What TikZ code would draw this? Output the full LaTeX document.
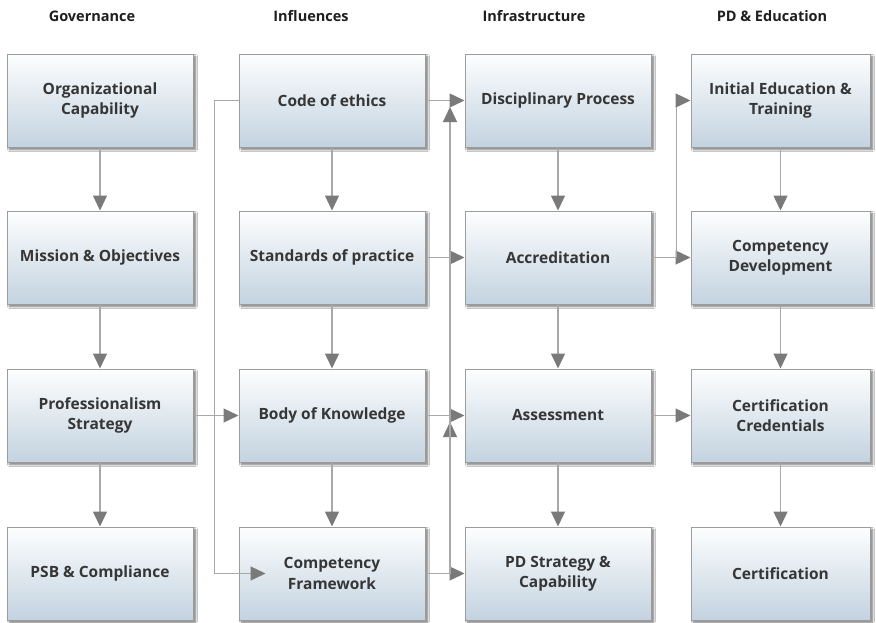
\documentclass[tikz,border=0pt]{standalone}
\usepackage{fontspec}
\setmainfont{Open Sans}
\usetikzlibrary{arrows.meta,shadows.blur}

\definecolor{boxtop}{HTML}{FDFEFE}
\definecolor{boxmid}{HTML}{E6EDF3}
\definecolor{boxbot}{HTML}{C3D3E0}
\definecolor{boxline}{HTML}{9C9C9C}
\definecolor{txt}{HTML}{363636}
\definecolor{wire}{HTML}{A8A8A8}
\definecolor{head}{HTML}{7A7A7A}

\tikzset{
  stage/.style={draw=boxline, line width=1pt, top color=boxtop, middle color=boxmid,
    bottom color=boxbot,
    minimum width=186pt, minimum height=93pt, inner sep=2pt, align=center,
    font=\fontsize{15.5}{20.5}\selectfont\bfseries, text=txt,
    blur shadow={shadow xshift=2.5pt, shadow yshift=-2.5pt, shadow blur radius=2pt,
      shadow blur steps=6, shadow opacity=55}},
  colhead/.style={font=\fontsize{14.5}{16}\selectfont\bfseries, text=black!88},
  link/.style={draw=wire, line width=1.3pt, -{Triangle[length=15pt,width=14pt,color=head]}},
}

\begin{document}
\begin{tikzpicture}[x=1pt,y=-1pt]
\path[use as bounding box, fill=white] (0,0) rectangle (876,622);

% column headings
\node[colhead] (h1) at (92,16)  {Governance};
\node[colhead] (h2) at (311,16) {Influences};
\node[colhead] (h3) at (534,16) {Infrastructure};
\node[colhead] (h4) at (772,16) {PD \& Education};

% Governance
\node[stage] (g1) at (100,100.5) {Organizational\\Capability};
\node[stage] (g2) at (100,257.5) {Mission \& Objectives};
\node[stage] (g3) at (100,415.5) {Professionalism\\Strategy};
\node[stage] (g4) at (100,573.5) {PSB \& Compliance};

% Influences
\node[stage] (i1) at (332,100.5) {Code of ethics};
\node[stage] (i2) at (332,257.5) {Standards of practice};
\node[stage] (i3) at (332,415.5) {Body of Knowledge};
\node[stage] (i4) at (332,573.5) {Competency\\Framework};

% Infrastructure
\node[stage] (f1) at (558,100.5) {Disciplinary Process};
\node[stage] (f2) at (558,257.5) {Accreditation};
\node[stage] (f3) at (558,415.5) {Assessment};
\node[stage] (f4) at (558,573.5) {PD Strategy \&\\Capability};

% PD & Education
\node[stage, minimum width=179pt] (p1) at (780.5,100.5) {Initial Education \&\\Training};
\node[stage, minimum width=179pt] (p2) at (780.5,257.5) {Competency\\Development};
\node[stage, minimum width=179pt] (p3) at (780.5,415.5) {Certification\\Credentials};
\node[stage, minimum width=179pt] (p4) at (780.5,573.5) {Certification};

% vertical flows inside each column
\draw[link] (g1) -- (g2);
\draw[link] (g2) -- (g3);
\draw[link] (g3) -- (g4);
\draw[link] (i1) -- (i2);
\draw[link] (i2) -- (i3);
\draw[link] (i3) -- (i4);
\draw[link] (f1) -- (f2);
\draw[link] (f2) -- (f3);
\draw[link] (f3) -- (f4);
\draw[link] (p1) -- (p2);
\draw[link] (p2) -- (p3);
\draw[link] (p3) -- (p4);

% flows across columns
\draw[link] (g3) -- (i3);
\draw[link] (i1.west) -- ++(-24,0) |- ([xshift=27pt]i4.west);
\draw[link] (i1) -- (f1);
\draw[link] (i2) -- (f2);
\draw[link] (i3) -- (f3);
\draw[link] (i4) -- (f4);
\coordinate (bus) at (450,573.5);
\draw[link, shorten >=6.5pt] (bus) -- (bus |- f3.west);
\draw[link, shorten >=6.5pt] (bus) -- (bus |- f1.west);
\draw[link] (f2) -- (p2);
\draw[link] (f3) -- (p3);
\draw[link] (f2.east) -- ++(25,0) |- (p1.west);
\end{tikzpicture}
\end{document}
